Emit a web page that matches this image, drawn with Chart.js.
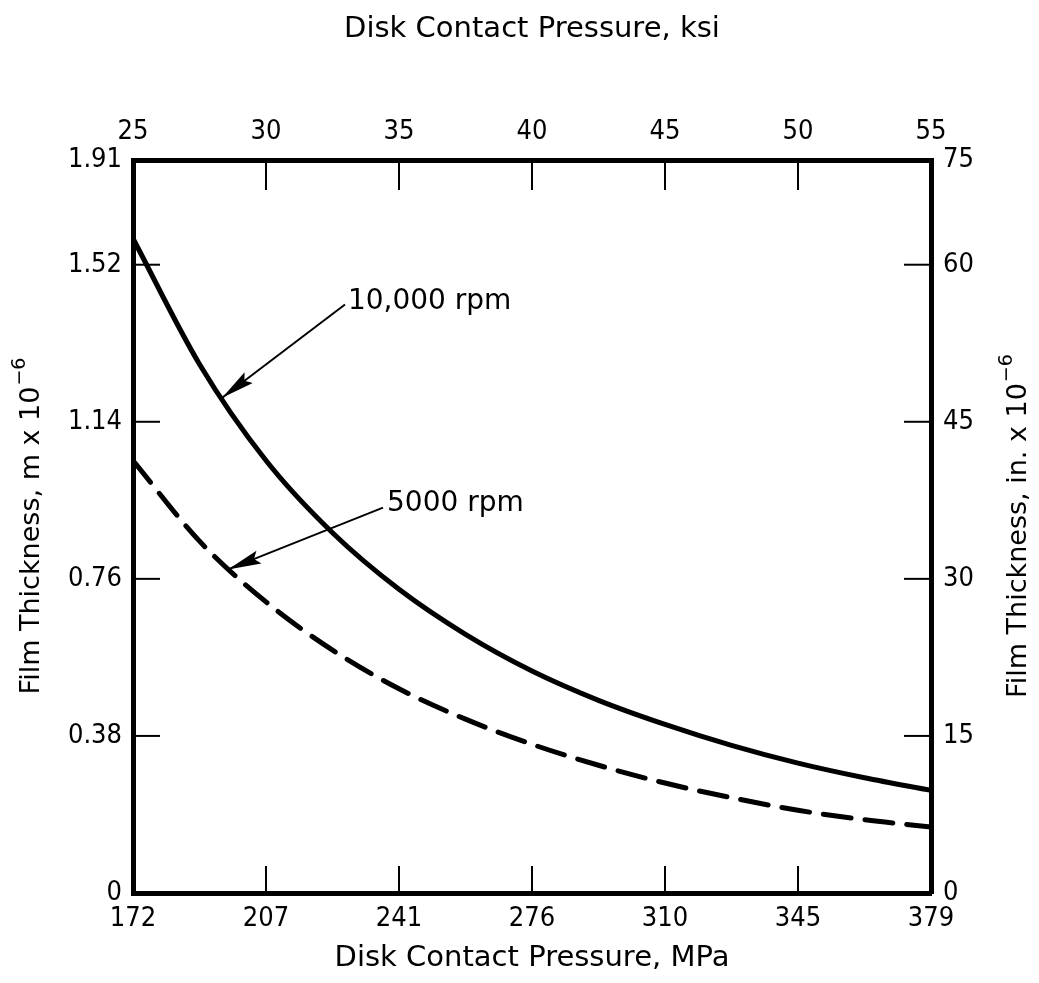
<!DOCTYPE html>
<html>
<head>
<meta charset="utf-8">
<script src="https://cdn.jsdelivr.net/npm/chart.js@4/dist/chart.umd.min.js"></script>
<style>
    html, body { margin: 0; padding: 0; background: #fff; }
</style>
</head>
<body>
<canvas id="myChart" width="1039" height="983"></canvas>
<script>
    // disk contact pressure, ksi
    var pressureKsi = [25, 27.5, 30, 32.5, 35, 37.5, 40, 42.5, 45, 47.5, 50, 52.5, 55];
    // film thickness, in. x 10^-6
    var film10000 = [62.5, 50.5, 41.3, 34.4, 29.0, 24.7, 21.2, 18.4, 16.1, 14.1, 12.4, 11.0, 9.8];
    var film5000 = [41.3, 33.6, 27.8, 23.2, 19.5, 16.6, 14.2, 12.2, 10.5, 9.1, 7.9, 7.0, 6.3];

    var ksiTicks = [25, 30, 35, 40, 45, 50, 55];
    var mpaLabels = ['172', '207', '241', '276', '310', '345', '379'];
    var yTop = 70;
    var inchTicks = [0, 15, 30, 45, 60, yTop];
    var inchLabels = ['0', '15', '30', '45', '60', '75'];
    var meterLabels = ['0', '0.38', '0.76', '1.14', '1.52', '1.91'];

    var tickFont = { family: "'DejaVu Sans Condensed', 'Liberation Sans', sans-serif", size: 27 };
    var titleFont = { family: "'DejaVu Sans', sans-serif", size: 29 };

    function pts(ys) {
        return pressureKsi.map(function (x, i) { return { x: x, y: ys[i] }; });
    }

    // inward tick marks
    var innerTicks = {
        id: 'innerTicks',
        afterDatasetsDraw: function (chart) {
            var c = chart.ctx, a = chart.chartArea, s = chart.scales;
            c.save();
            c.strokeStyle = '#000';
            c.lineWidth = 2;
            function line(x1, y1, x2, y2) { c.beginPath(); c.moveTo(x1, y1); c.lineTo(x2, y2); c.stroke(); }
            ksiTicks.slice(1, -1).forEach(function (v) {
                var x = s.x.getPixelForValue(v);
                line(x, a.bottom, x, a.bottom - 27);
                line(x, a.top, x, a.top + 30);
            });
            inchTicks.slice(1, -1).forEach(function (v) {
                var y = s.y.getPixelForValue(v);
                line(a.left, y, a.left + 27, y);
                line(a.right, y, a.right - 27, y);
            });
            c.restore();
        }
    };

    // vertical axis titles, both read bottom to top, with a raised exponent
    var sideTitles = {
        id: 'sideTitles',
        afterDraw: function (chart) {
            var c = chart.ctx, a = chart.chartArea;
            var midY = (a.top + a.bottom) / 2;
            [['Film Thickness, m x 10', 32], ['Film Thickness, in. x 10', 1019]].forEach(function (t) {
                c.save();
                c.translate(t[1], midY);
                c.rotate(-Math.PI / 2);
                c.fillStyle = '#000';
                c.textBaseline = 'middle';
                c.textAlign = 'left';
                c.font = "27px 'DejaVu Sans', sans-serif";
                var w1 = c.measureText(t[0]).width;
                c.font = "19px 'DejaVu Sans', sans-serif";
                var w2 = c.measureText('\u22126').width;
                var x0 = -(w1 + w2) / 2;
                c.font = "27px 'DejaVu Sans', sans-serif";
                c.fillText(t[0], x0, 0);
                c.font = "19px 'DejaVu Sans', sans-serif";
                c.fillText('\u22126', x0 + w1 + 1, -12);
                c.restore();
            });
        }
    };

    var notes = [
        { text: '10,000 rpm', tip: [28.35, 47.3], tail: [32.97, 56.2], at: [33.08, 56.5] },
        { text: '5000 rpm', tip: [28.57, 30.9], tail: [34.4, 36.8], at: [34.55, 37.2] }
    ];

    var arrows = {
        id: 'arrows',
        afterDatasetsDraw: function (chart) {
            var c = chart.ctx, sx = chart.scales.x, sy = chart.scales.y;
            c.save();
            c.strokeStyle = '#000';
            c.fillStyle = '#000';
            c.lineWidth = 2;
            notes.forEach(function (n) {
                var x1 = sx.getPixelForValue(n.tail[0]), y1 = sy.getPixelForValue(n.tail[1]);
                var x2 = sx.getPixelForValue(n.tip[0]), y2 = sy.getPixelForValue(n.tip[1]);
                var ang = Math.atan2(y2 - y1, x2 - x1);
                c.beginPath(); c.moveTo(x1, y1); c.lineTo(x2, y2); c.stroke();
                c.beginPath();
                c.moveTo(x2, y2);
                c.lineTo(x2 - 34 * Math.cos(ang - 0.2), y2 - 34 * Math.sin(ang - 0.2));
                c.lineTo(x2 - 28 * Math.cos(ang), y2 - 28 * Math.sin(ang));
                c.lineTo(x2 - 34 * Math.cos(ang + 0.2), y2 - 34 * Math.sin(ang + 0.2));
                c.closePath(); c.fill();
                c.font = "28px 'DejaVu Sans', sans-serif";
                c.textBaseline = 'middle';
                c.textAlign = 'left';
                c.fillText(n.text, sx.getPixelForValue(n.at[0]), sy.getPixelForValue(n.at[1]));
            });
            c.restore();
        }
    };

    var ctx = document.getElementById('myChart').getContext('2d');
    var chart = new Chart(ctx, {
        type: 'line',
        data: {
            datasets: [{
                    label: '10,000 rpm',
                    data: pts(film10000),
                    borderColor: '#000',
                    borderWidth: 5,
                    pointRadius: 0,
                    cubicInterpolationMode: 'monotone',
                    fill: false
                },
                {
                    label: '5000 rpm',
                    data: pts(film5000),
                    borderColor: '#000',
                    borderWidth: 5,
                    borderDash: [28, 14],
                    borderCapStyle: 'round',
                    pointRadius: 0,
                    cubicInterpolationMode: 'monotone',
                    fill: false
                }
            ]
        },
        options: {
            responsive: false,
            animation: false,
            devicePixelRatio: 1,
            layout: { padding: 0 },
            plugins: {
                legend: { display: false },
                tooltip: { enabled: false }
            },
            scales: {
                x: {
                    type: 'linear', position: 'bottom', min: 25, max: 55,
                    afterBuildTicks: function (s) { s.ticks = ksiTicks.map(function (v) { return { value: v }; }); },
                    afterFit: function (s) { s.height = 90; },
                    grid: { display: false, drawTicks: false },
                    border: { display: true, width: 5, color: '#000' },
                    ticks: { color: '#000', font: tickFont, padding: 10, maxRotation: 0, autoSkip: false,
                        callback: function (v, i) { return mpaLabels[i]; } },
                    title: { display: true, text: 'Disk Contact Pressure, MPa', color: '#000', font: titleFont, padding: { top: 0, bottom: 7 } }
                },
                x2: {
                    type: 'linear', position: 'top', min: 25, max: 55,
                    afterBuildTicks: function (s) { s.ticks = ksiTicks.map(function (v) { return { value: v }; }); },
                    afterFit: function (s) { s.height = 160; },
                    grid: { display: false, drawTicks: false },
                    border: { display: true, width: 5, color: '#000' },
                    ticks: { color: '#000', font: tickFont, padding: 12, maxRotation: 0, autoSkip: false,
                        callback: function (v) { return String(v); } },
                    title: { display: true, text: 'Disk Contact Pressure, ksi', color: '#000', font: titleFont, padding: { top: 12, bottom: 0 } }
                },
                y: {
                    type: 'linear', position: 'left', min: 0, max: yTop,
                    afterBuildTicks: function (s) { s.ticks = inchTicks.map(function (v) { return { value: v }; }); },
                    afterFit: function (s) { s.width = 133; },
                    grid: { display: false, drawTicks: false },
                    border: { display: true, width: 5, color: '#000' },
                    ticks: { color: '#000', font: tickFont, padding: 11, autoSkip: false,
                        callback: function (v, i) { return meterLabels[i]; } },
                    title: { display: false }
                },
                y2: {
                    type: 'linear', position: 'right', min: 0, max: yTop,
                    afterBuildTicks: function (s) { s.ticks = inchTicks.map(function (v) { return { value: v }; }); },
                    afterFit: function (s) { s.width = 108; },
                    grid: { display: false, drawTicks: false },
                    border: { display: true, width: 5, color: '#000' },
                    ticks: { color: '#000', font: tickFont, padding: 12, autoSkip: false,
                        callback: function (v, i) { return inchLabels[i]; } },
                    title: { display: false }
                }
            }
        },
        plugins: [innerTicks, arrows, sideTitles]
    });
</script>
</body>
</html>
